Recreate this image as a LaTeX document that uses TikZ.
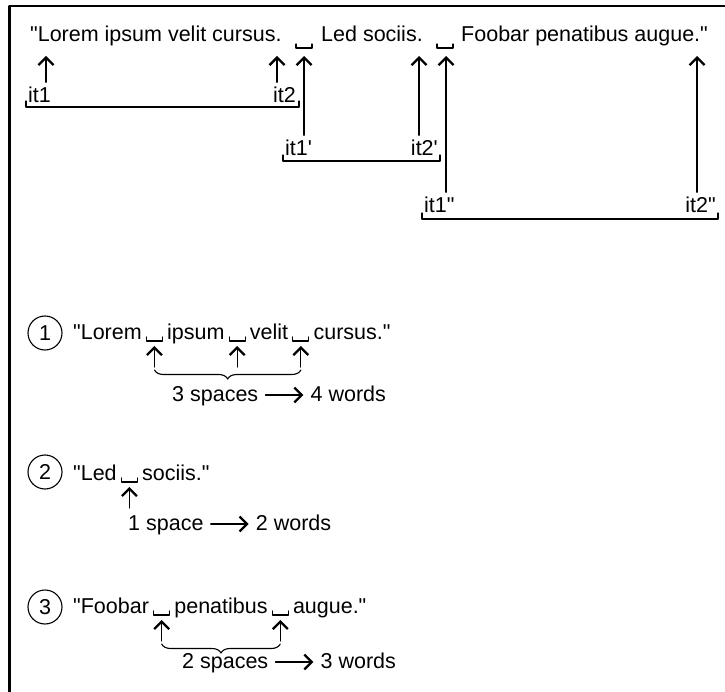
\documentclass[tikz,border=0pt]{standalone}
\usepackage{fontspec}
\setmainfont{Liberation Sans}[Ligatures=TeXOff]
\usetikzlibrary{arrows.meta,positioning,decorations.pathreplacing}

\begin{document}
\begin{tikzpicture}[x=1pt,y=-1pt,line cap=round,line join=round,
    >={Straight Barb[length=7.5pt,width=15pt,line width=2.3pt]},
    txt/.style={inner sep=0pt,font=\fontsize{21.5}{25}\selectfont},
    lbl/.style={txt,inner ysep=5pt},
    arr/.style={->,line width=1.2pt},
    blank/.style={line width=1.2pt},
    brk/.style={line width=1.3pt},
    num/.style={draw,circle,line width=1.1pt,minimum size=34pt,inner sep=0pt,font=\fontsize{21.5}{25}\selectfont},
    brace/.style={decorate,decoration={brace,mirror,amplitude=9pt},line width=1.1pt}]
    \useasboundingbox (0,0) rectangle (725,692);
    \draw[line width=2.5pt,line cap=butt] (9.5,692) -- (9.5,6.2) -- (725,6.2);

    % the whole text with its two iterator pairs
    \node[txt,anchor=base west] (s1) at (30,42) {"Lorem ipsum velit cursus.};
    \node[txt,anchor=base west] (s2) at (321,42) {Led sociis.};
    \node[txt,anchor=base west] (s3) at (461,42) {Foobar penatibus augue."};
    \coordinate (t1) at (304,48);
    \coordinate (t2) at (445,48);

    \node[lbl,anchor=base west] (l1) at (28,103) {it1};
    \node[lbl,anchor=base east] (r1) at (296,103) {it2};
    \node[lbl,anchor=base west] (l2) at (285,156) {it1'};
    \node[lbl,anchor=base east] (r2) at (438,156) {it2'};
    \node[lbl,anchor=base west] (l3) at (424,213) {it1"};
    \node[lbl,anchor=base east] (r3) at (716,213) {it2"};

    \coordinate (h1) at (46,56);
    \coordinate (h2) at (277,56);
    \coordinate (h3) at (304,56);
    \coordinate (h4) at (419,56);
    \coordinate (h5) at (446,56);
    \coordinate (h6) at (697,56);
    \draw[arr] (l1.north -| h1) -- (h1);
    \draw[arr] (r1.north -| h2) -- (h2);
    \draw[arr] (l2.north -| h3) -- (h3);
    \draw[arr] (r2.north -| h4) -- (h4);
    \draw[arr] (l3.north -| h5) -- (h5);
    \draw[arr] (r3.north -| h6) -- (h6);

    \draw[brk] (26,101) -- (26,107) -- (299,107) -- (299,101);
    \draw[brk] (283,155) -- (283,161) -- (440,161) -- (440,155);
    \draw[brk] (422,213) -- (422,219) -- (718,219) -- (718,213);

    % 1
    \node[num] (n1) at (45,333) {1};
    \node[txt,anchor=base west] (a1) at (73,339) {"Lorem};
    \node[txt,base right=25pt of a1] (a2) {ipsum};
    \node[txt,base right=25pt of a2] (a3) {velit};
    \node[txt,base right=25pt of a3] (a4) {cursus."};
    \path (a1.base east) ++(12.5,2) coordinate (b1);
    \path (a2.base east) ++(12.5,2) coordinate (b2);
    \path (a3.base east) ++(12.5,2) coordinate (b3);
    \node[txt,anchor=base west] (e1) at (172,401) {3 spaces};
    \node[txt,base right=52pt of e1] (f1) {4 words};

    % 2
    \node[num] (n2) at (45,472) {2};
    \node[txt,anchor=base west] (c1) at (73,480) {"Led};
    \node[txt,base right=25pt of c1] (c2) {sociis."};
    \path (c1.base east) ++(12.5,2) coordinate (k1);
    \node[txt,anchor=base west] (e2) at (128,530) {1 space};
    \node[txt,base right=52pt of e2] (f2) {2 words};

    % 3
    \node[num] (n3) at (45,607) {3};
    \node[txt,anchor=base west] (d1) at (73,613) {"Foobar};
    \node[txt,base right=25pt of d1] (d2) {penatibus};
    \node[txt,base right=25pt of d2] (d3) {augue."};
    \path (d1.base east) ++(12.5,2) coordinate (g1);
    \path (d2.base east) ++(12.5,2) coordinate (g2);
    \node[txt,anchor=base west] (e3) at (182,668) {2 spaces};
    \node[txt,base right=52pt of e3] (f3) {3 words};

    \foreach \m in {t1,t2,b1,b2,b3,k1,g1,g2}
    \draw[blank] (\m) +(-8,-4) -- +(-8,0) -- +(8,0) -- +(8,-4);
    \foreach \m in {b1,b2,b3,k1,g1,g2}
    \draw[arr] ([shift={(0,26)}]\m) -- ([shift={(0,5)}]\m);
    \draw[brace] ([shift={(0,29)}]b1) -- ([shift={(0,29)}]b3);
    \draw[brace] ([shift={(0,29)}]g1) -- ([shift={(0,29)}]g2);

    \foreach \i in {1,2,3}
    \draw[arr] ([xshift=7pt,yshift=6pt]e\i.base east) -- ([xshift=-7pt,yshift=6pt]f\i.base west);
\end{tikzpicture}
\end{document}
